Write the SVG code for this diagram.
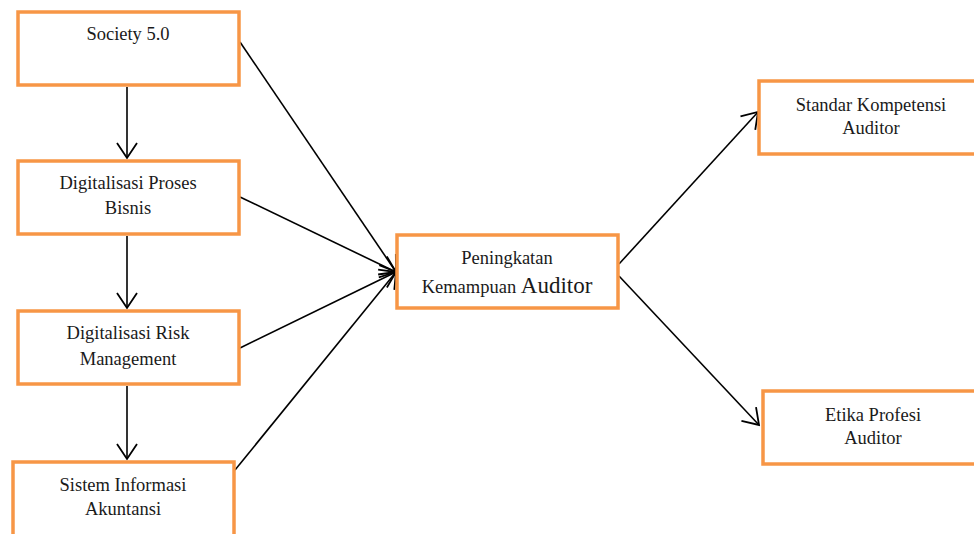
<svg xmlns="http://www.w3.org/2000/svg" width="974" height="534" viewBox="0 0 974 534">
<style>
.box{fill:#fff;stroke:#F79646;stroke-width:3.5}
.t{font-family:"Liberation Serif","Times New Roman",serif;font-size:18.5px;fill:#1a1a1a;text-anchor:middle}
.big{font-size:23px}
.c{stroke:#000;stroke-width:1.6;fill:none;marker-end:url(#arr)}
</style>
<defs>
<marker id="arr" markerUnits="userSpaceOnUse" viewBox="-16 -12 18 24" refX="0" refY="0" markerWidth="18" markerHeight="24" orient="auto">
<path d="M-15,-10 L0,0 L-15,10" fill="none" stroke="#000" stroke-width="1.8"/>
</marker>
</defs>
<rect width="974" height="534" fill="#fff"/>
<g id="connectors">
<line class="c" x1="127" y1="87" x2="127" y2="158"/>
<line class="c" x1="127" y1="236" x2="127" y2="308"/>
<line class="c" x1="127" y1="386" x2="127" y2="459"/>
<line class="c" x1="240" y1="42" x2="396" y2="272"/>
<line class="c" x1="240" y1="197" x2="396" y2="272"/>
<line class="c" x1="240" y1="348" x2="396" y2="272"/>
<line class="c" x1="235" y1="470" x2="396" y2="272"/>
<line class="c" x1="619" y1="264" x2="758" y2="112"/>
<line class="c" x1="619" y1="276" x2="759" y2="425"/>
</g>
<g id="society">
<rect class="box" x="18" y="12" width="221" height="73"/>
<text class="t" x="128" y="40">Society 5.0</text>
</g>
<g id="digitalisasi-proses">
<rect class="box" x="18" y="161" width="221" height="73"/>
<text class="t" x="128" y="189">Digitalisasi Proses</text>
<text class="t" x="128" y="214">Bisnis</text>
</g>
<g id="digitalisasi-risk">
<rect class="box" x="18" y="311" width="221" height="73"/>
<text class="t" x="128" y="339">Digitalisasi Risk</text>
<text class="t" x="128" y="365">Management</text>
</g>
<g id="sistem-informasi">
<rect class="box" x="13" y="462" width="221" height="80"/>
<text class="t" x="123" y="491">Sistem Informasi</text>
<text class="t" x="123" y="515">Akuntansi</text>
</g>
<g id="peningkatan">
<rect class="box" x="397" y="235" width="221" height="73"/>
<text class="t" x="507" y="264">Peningkatan</text>
<text class="t" x="507" y="293">Kemampuan <tspan class="big">Auditor</tspan></text>
</g>
<g id="standar">
<rect class="box" x="759" y="81" width="230" height="73"/>
<text class="t" x="871" y="111">Standar Kompetensi</text>
<text class="t" x="871" y="134">Auditor</text>
</g>
<g id="etika">
<rect class="box" x="763" y="391" width="230" height="73"/>
<text class="t" x="873" y="421">Etika Profesi</text>
<text class="t" x="873" y="444">Auditor</text>
</g>
</svg>
